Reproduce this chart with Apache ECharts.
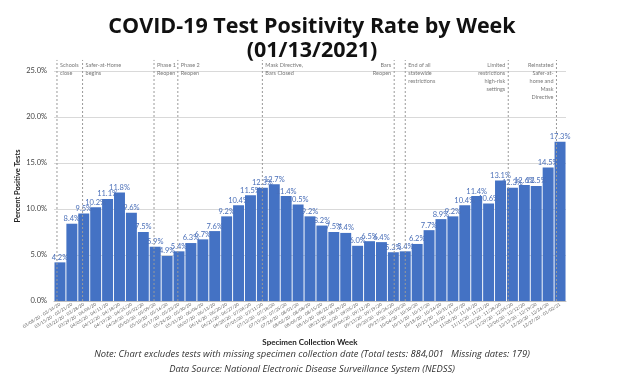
<!DOCTYPE html>
<html><head><meta charset="utf-8">
<script src="https://cdn.jsdelivr.net/npm/echarts@6/dist/echarts.min.js"></script>
<style>html,body{margin:0;padding:0;background:#fff}#c{width:624px;height:384px}</style>
</head><body><div id="c"></div>
<script>
var weeks = ["03/08/20 - 03/14/20","03/15/20 - 03/21/20","03/22/20 - 03/28/20","03/29/20 - 04/04/20","04/05/20 - 04/11/20","04/12/20 - 04/18/20","04/19/20 - 04/25/20","04/26/20 - 05/02/20","05/03/20 - 05/09/20","05/10/20 - 05/16/20","05/17/20 - 05/23/20","05/24/20 - 05/30/20","05/31/20 - 06/06/20","06/07/20 - 06/13/20","06/14/20 - 06/20/20","06/21/20 - 06/27/20","06/28/20 - 07/04/20","07/05/20 - 07/11/20","07/12/20 - 07/18/20","07/19/20 - 07/25/20","07/26/20 - 08/01/20","08/02/20 - 08/08/20","08/09/20 - 08/15/20","08/16/20 - 08/22/20","08/23/20 - 08/29/20","08/30/20 - 09/05/20","09/06/20 - 09/12/20","09/13/20 - 09/19/20","09/20/20 - 09/26/20","09/27/20 - 10/03/20","10/04/20 - 10/10/20","10/11/20 - 10/17/20","10/18/20 - 10/24/20","10/25/20 - 10/31/20","11/01/20 - 11/07/20","11/08/20 - 11/14/20","11/15/20 - 11/21/20","11/22/20 - 11/28/20","11/29/20 - 12/05/20","12/06/20 - 12/12/20","12/13/20 - 12/19/20","12/20/20 - 12/26/20","12/27/20 - 01/02/21"];
var positivity = [4.2,8.4,9.5,10.2,11.1,11.8,9.6,7.5,5.9,4.9,5.4,6.3,6.7,7.6,9.2,10.4,11.5,12.3,12.7,11.4,10.5,9.2,8.2,7.5,7.4,6.0,6.5,6.4,5.3,5.4,6.2,7.7,8.9,9.2,10.4,11.4,10.6,13.1,12.3,12.6,12.5,14.5,17.3];
var eventPos = [-0.25,1.9,7.9,9.9,17.0,28.07,29.0,37.65,41.7];
var eventText = ["Schools\nclose","Safer-at-Home\nbegins","Phase 1\nReopen","Phase 2\nReopen","Mask Directive,\nBars Closed","Bars\nReopen","End of all\nstatewide\nrestrictions","Limited\nrestrictions\nhigh-risk\nsettings","Reinstated\nSafer-at-\nhome and\nMask\nDirective"];
var eventSide = ["right","right","right","right","right","left","right","left","left"];
var yTicks = [0,5,10,15,20,25];
var lineTop = 26.2;

var series = [{
  type:'bar', data:positivity, barCategoryGap:'8%',
  itemStyle:{color:'#4472c4'},
  label:{show:true, position:'top', distance:1, fontSize:7.5, color:'#4a6fb8', fontFamily:'Lato',
    formatter:function(p){return p.value.toFixed(1)+'%';}}
}];
eventPos.forEach(function(x,i){
  series.push({type:'line', xAxisIndex:1, yAxisIndex:0, clip:false, symbol:'none', silent:true,
    lineStyle:{color:'#9a9a9a', width:1, type:[2,2]},
    data:[[x,0],[x,lineTop]], z:5});
});
series.push({type:'scatter', xAxisIndex:1, yAxisIndex:0, clip:false, symbolSize:0, silent:true,
  data:eventPos.map(function(x,i){return {value:[x,lineTop],
    label:{show:true, position:eventSide[i], distance:3, verticalAlign:'top', offset:[0,1],
      formatter:eventText[i], fontSize:5.5, lineHeight:8, color:'#555', fontFamily:'Lato'}};})
});

var chart = echarts.init(document.getElementById('c'));
chart.setOption({
  animation:false,
  title:[
    {text:'COVID-19 Test Positivity Rate by Week\n(01/13/2021)', left:'center', top:10,
      textStyle:{fontSize:21.5, fontWeight:'bold', color:'#111', fontFamily:'Open Sans', lineHeight:24}},
    {text:'Note: Chart excludes tests with missing specimen collection date (Total tests: 884,001   Missing dates: 179)',
      left:'center', top:345, textStyle:{fontSize:9.4, fontStyle:'italic', fontWeight:'normal', color:'#333', fontFamily:'Open Sans'}},
    {text:'Data Source: National Electronic Disease Surveillance System (NEDSS)',
      left:'center', top:360, textStyle:{fontSize:9.4, fontStyle:'italic', fontWeight:'normal', color:'#333', fontFamily:'Open Sans'}}
  ],
  grid:{left:54, right:58, top:71, bottom:83},
  xAxis:[{type:'category', data:weeks, boundaryGap:true,
    name:'Specimen Collection Week', nameLocation:'middle', nameGap:37,
    nameTextStyle:{fontSize:8, fontWeight:'bold', color:'#222', fontFamily:'Lato'},
    axisLine:{lineStyle:{color:'#bfbfbf'}}, axisTick:{show:false},
    axisLabel:{interval:0, rotate:32, fontSize:4.5, color:'#666', margin:3, fontFamily:'Lato'}},
   {type:'value', min:-0.5, max:42.5, show:false}],
  yAxis:[{type:'value', min:0, max:25, interval:5,
    name:'Percent Positive Tests', nameLocation:'middle', nameGap:32, nameMoveOverlap:false,
    nameTextStyle:{fontSize:7.5, fontWeight:'bold', color:'#222', fontFamily:'Lato'},
    axisLine:{show:false}, axisTick:{show:false},
    splitLine:{lineStyle:{color:'#d9d9d9'}},
    axisLabel:{fontSize:7.5, color:'#444', margin:7, fontFamily:'Lato',
      formatter:function(v){return v.toFixed(1)+'%';}}}],
  series:series
});
</script></body></html>
